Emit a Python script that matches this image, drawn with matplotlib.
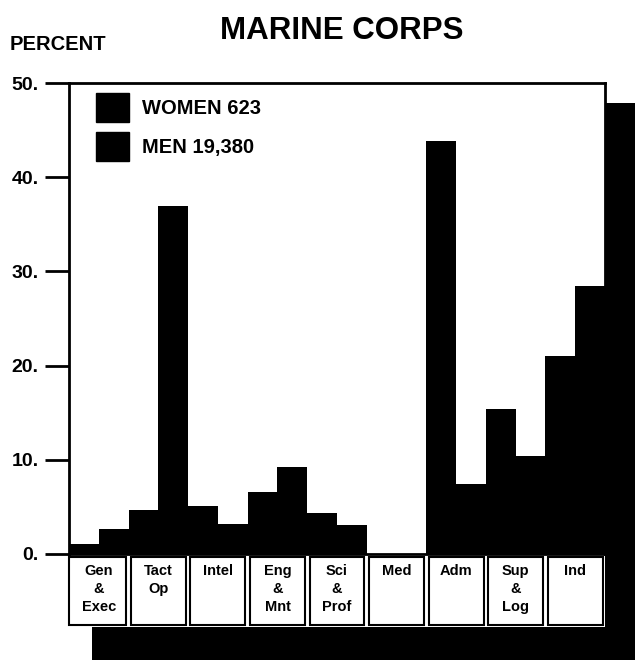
import matplotlib
matplotlib.use("Agg")
import matplotlib.pyplot as plt
from matplotlib.patches import Rectangle, Patch
import numpy as np

categories = ["Gen\n&\nExec", "Tact\nOp", "Intel", "Eng\n&\nMnt", "Sci\n&\nProf",
              "Med", "Adm", "Sup\n&\nLog", "Ind"]
women = [1.1, 4.7, 5.1, 6.6, 4.3, 0.0, 43.8, 15.4, 21.0]
men = [2.7, 36.9, 3.2, 9.2, 3.1, 0.0, 7.4, 10.4, 28.4]
yticks = [0, 10, 20, 30, 40, 50]
ytick_labels = ["0.", "10.", "20.", "30.", "40.", "50."]
legend_labels = ["WOMEN 623", "MEN 19,380"]
title = "MARINE CORPS"
ylabel = "PERCENT"

W, H = 635, 660
plt.rcParams['font.family'] = ['Liberation Sans', 'DejaVu Sans']
plt.rcParams['font.weight'] = 'bold'

fig = plt.figure(figsize=(W / 100, H / 100), dpi=100)
fig.patch.set_facecolor('white')

def fx(px):
    return px / W

def fy(py):
    return 1 - py / H

# drop shadows
fig.patches.append(Rectangle((fx(605), 0), 1 - fx(605), fy(103), transform=fig.transFigure,
                             facecolor='black', edgecolor='none', zorder=0))
fig.patches.append(Rectangle((fx(92), 0), 1 - fx(92), fy(627), transform=fig.transFigure,
                             facecolor='black', edgecolor='none', zorder=0))

left, right, top, zero = 69, 605, 83, 554
ax = fig.add_axes([fx(left), fy(zero), fx(right - left), (zero - top) / H])
ax.set_facecolor('white')
x = np.arange(len(categories))
ax.bar(x + 0.25, women, width=0.5, color='black', label=legend_labels[0])
ax.bar(x + 0.75, men, width=0.5, color='black', label=legend_labels[1])
ax.set_xlim(0, len(categories))
ax.set_ylim(0, 50)
ax.set_xticks([])
ax.set_yticks(yticks)
ax.set_yticklabels(ytick_labels, fontsize=14, fontweight='bold')
ax.tick_params(axis='y', direction='out', length=17, width=2, pad=5)
for s in ax.spines.values():
    s.set_linewidth(2)

handles = [Patch(facecolor='black', edgecolor='black'), Patch(facecolor='black', edgecolor='black')]
leg = ax.legend(handles, legend_labels, loc='upper left', frameon=False,
                bbox_to_anchor=(27 / (right - left), 1 - 10 / (zero - top)),
                borderaxespad=0, borderpad=0, handleheight=1.85, handlelength=1.65,
                handletextpad=0.65, labelspacing=0.5,
                prop={'size': 14.5, 'weight': 'bold'})

# category label row
ax2 = fig.add_axes([fx(left), fy(625), fx(right - left), (625 - 557) / H])
ax2.set_xlim(0, len(categories))
ax2.set_ylim(0, 1)
ax2.axis('off')
for i, lab in enumerate(categories):
    x0 = i + (0.0 if i == 0 else 0.04)
    x1 = i + 1 - 0.04
    ax2.add_patch(Rectangle((x0, 0), x1 - x0, 1, facecolor='white', edgecolor='black',
                            linewidth=1.5, clip_on=False))
    ax2.text(i + 0.5, 0.89, lab, ha='center', va='top', fontsize=10.5, fontweight='bold',
             linespacing=1.35)

fig.text(fx(342), fy(31), title, ha='center', va='center', fontsize=22.5, fontweight='bold')
fig.text(fx(10), fy(44), ylabel, ha='left', va='center', fontsize=14.5, fontweight='bold')

fig.savefig('out.png', dpi=100)
